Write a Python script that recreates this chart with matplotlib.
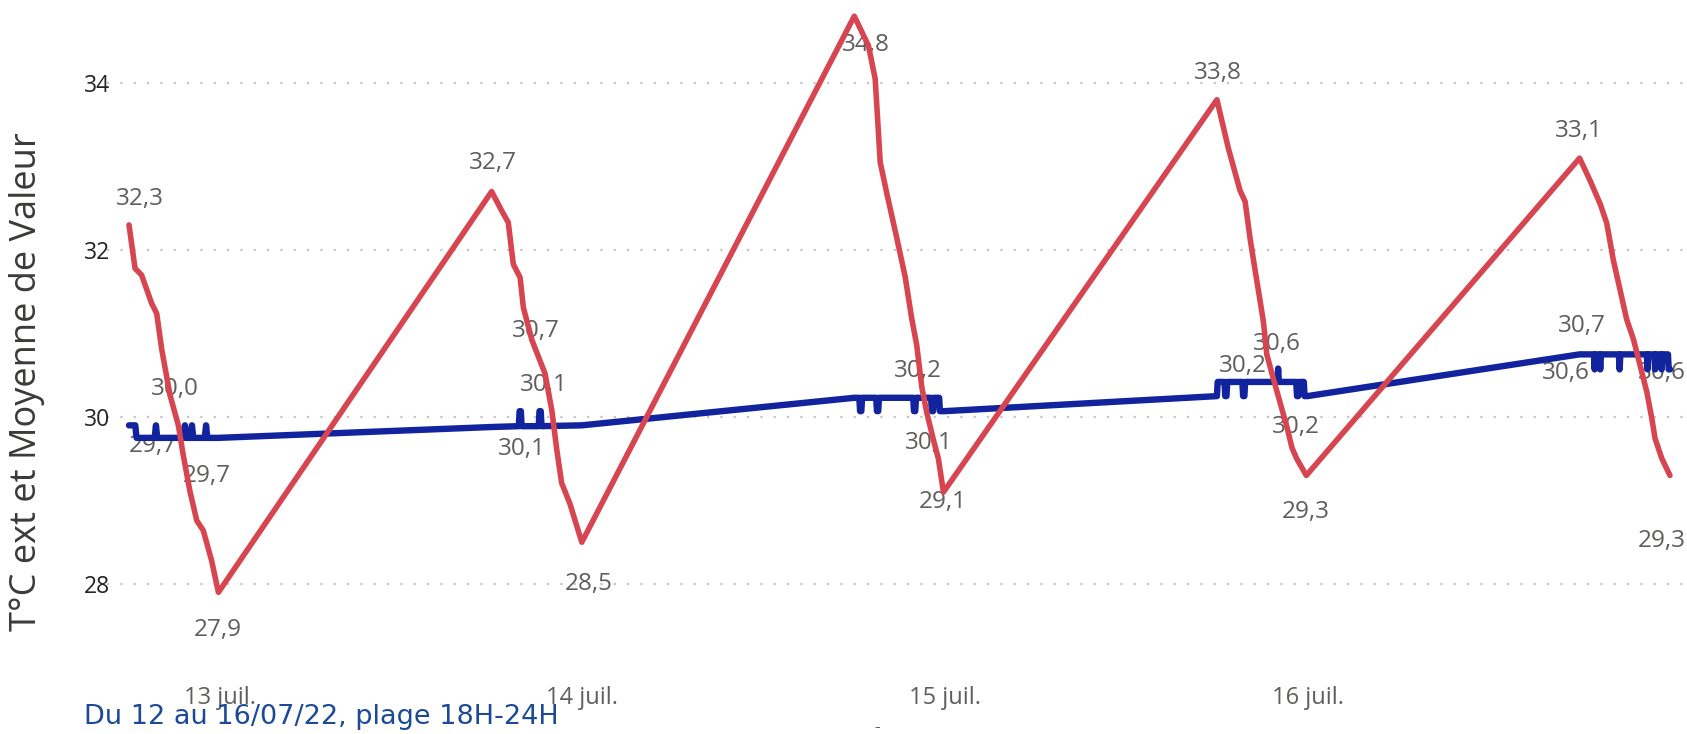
#!/usr/bin/env python3
"""
T°C ext vs average value, 12 to 16/07/22, 18H-24H window.
Power BI style line chart rebuilt with matplotlib.
"""

import matplotlib

matplotlib.use("Agg")
import matplotlib.pyplot as plt
import pandas as pd

YEAR = "2022-"

# outdoor temperature, one 18H-24H block per evening
red_times = [
    "07-12 18:00", "07-12 18:24", "07-12 18:50", "07-12 19:30", "07-12 19:50", "07-12 20:10",
    "07-12 20:43", "07-12 21:16", "07-12 21:35", "07-12 22:02", "07-12 22:29", "07-12 22:55",
    "07-12 23:28", "07-12 23:55",
    "07-13 18:00", "07-13 18:40", "07-13 19:06", "07-13 19:26", "07-13 19:53", "07-13 20:06",
    "07-13 20:40", "07-13 21:32", "07-13 21:59", "07-13 22:19", "07-13 22:38", "07-13 23:11",
    "07-13 23:58",
    "07-14 18:00", "07-14 18:56", "07-14 19:23", "07-14 19:43", "07-14 20:09", "07-14 20:49",
    "07-14 21:22", "07-14 21:48", "07-14 22:08", "07-14 22:28", "07-14 22:48", "07-14 23:14",
    "07-14 23:34", "07-14 23:54",
    "07-15 18:00", "07-15 18:46", "07-15 19:32", "07-15 19:52", "07-15 20:12", "07-15 20:32",
    "07-15 20:52", "07-15 21:05", "07-15 21:18", "07-15 21:44", "07-15 22:11", "07-15 22:38",
    "07-15 22:58", "07-15 23:17", "07-15 23:55",
    "07-16 18:00", "07-16 18:42", "07-16 19:22", "07-16 19:48", "07-16 20:14", "07-16 20:41",
    "07-16 21:07", "07-16 21:34", "07-16 22:01", "07-16 22:27", "07-16 22:47", "07-16 23:00",
    "07-16 23:27", "07-16 23:59",
]
red_values = [
    32.3, 31.78, 31.70, 31.36, 31.24, 30.81, 30.26, 29.90, 29.55, 29.11, 28.76, 28.64, 28.28, 27.9,
    32.7, 32.47, 32.33, 31.83, 31.67, 31.31, 30.92, 30.52, 30.08, 29.60, 29.21, 28.96, 28.5,
    34.8, 34.45, 34.05, 33.05, 32.68, 32.14, 31.68, 31.18, 30.86, 30.36, 30.05, 29.73, 29.50, 29.1,
    33.8, 33.21, 32.71, 32.58, 32.13, 31.75, 31.38, 31.13, 30.75, 30.46, 30.17, 29.88, 29.63, 29.50, 29.3,
    33.1, 32.83, 32.55, 32.32, 31.88, 31.52, 31.17, 30.93, 30.61, 30.30, 29.98, 29.74, 29.50, 29.3,
]

# "Moyenne de Valeur"
blue_times = [
    "07-12 18:00", "07-12 18:25", "07-12 18:30", "07-12 19:42", "07-12 19:47", "07-12 19:52",
    "07-12 21:37", "07-12 21:42", "07-12 21:47", "07-12 22:05", "07-12 22:10", "07-12 22:15",
    "07-12 23:01", "07-12 23:06", "07-12 23:11", "07-12 23:55",
    "07-13 18:00", "07-13 19:48", "07-13 19:51", "07-13 19:56", "07-13 19:59", "07-13 21:07",
    "07-13 21:10", "07-13 21:15", "07-13 21:18", "07-13 23:58",
    "07-14 18:00", "07-14 18:20", "07-14 18:23", "07-14 18:28", "07-14 18:31", "07-14 19:27",
    "07-14 19:30", "07-14 19:35", "07-14 19:38", "07-14 21:54", "07-14 21:57", "07-14 22:02",
    "07-14 22:05", "07-14 23:05", "07-14 23:08", "07-14 23:13", "07-14 23:16", "07-14 23:37",
    "07-14 23:40", "07-14 23:59",
    "07-15 18:00", "07-15 18:03", "07-15 18:30", "07-15 18:33", "07-15 18:38", "07-15 18:41",
    "07-15 19:41", "07-15 19:44", "07-15 19:49", "07-15 19:52", "07-15 22:00", "07-15 22:03",
    "07-15 22:06", "07-15 23:15", "07-15 23:18", "07-15 23:23", "07-15 23:26", "07-15 23:45",
    "07-15 23:48", "07-15 23:59",
    "07-16 18:00", "07-16 18:57", "07-16 19:00", "07-16 19:03", "07-16 19:19", "07-16 19:22",
    "07-16 19:25", "07-16 20:36", "07-16 20:39", "07-16 20:42", "07-16 22:27", "07-16 22:30",
    "07-16 22:33", "07-16 22:57", "07-16 23:00", "07-16 23:03", "07-16 23:23", "07-16 23:26",
    "07-16 23:29", "07-16 23:51", "07-16 23:54", "07-16 23:59",
]
blue_values = [
    29.90, 29.90, 29.75, 29.75, 29.90, 29.75, 29.75, 29.90, 29.75, 29.75, 29.90, 29.75,
    29.75, 29.90, 29.75, 29.75,
    29.88, 29.89, 30.07, 30.07, 29.89, 29.89, 30.07, 30.07, 29.89, 29.90,
    30.23, 30.23, 30.07, 30.07, 30.23, 30.23, 30.07, 30.07, 30.23, 30.23, 30.07, 30.07,
    30.23, 30.23, 30.07, 30.07, 30.23, 30.23, 30.07, 30.07,
    30.25, 30.42, 30.42, 30.25, 30.25, 30.42, 30.42, 30.25, 30.25, 30.42, 30.42, 30.58,
    30.42, 30.42, 30.25, 30.25, 30.42, 30.42, 30.25, 30.25,
    30.75, 30.75, 30.57, 30.75, 30.75, 30.57, 30.75, 30.75, 30.57, 30.75, 30.75, 30.57,
    30.75, 30.75, 30.57, 30.75, 30.75, 30.57, 30.75, 30.75, 30.57, 30.57,
]

# data labels as Power BI placed them
label_texts = [
    "32,3", "30,0", "29,7", "29,7", "27,9",
    "32,7", "30,7", "30,1", "30,1", "28,5",
    "34,8", "30,2", "30,1", "29,1",
    "33,8", "30,2", "30,6", "30,2", "29,3",
    "33,1", "30,7", "30,6", "30,6", "29,3",
]
label_times = [
    "07-12 18:44", "07-12 21:02", "07-12 19:35", "07-12 23:10", "07-12 23:53",
    "07-13 18:05", "07-13 20:56", "07-13 21:28", "07-13 20:01", "07-14 00:25",
    "07-14 18:47", "07-14 22:13", "07-14 22:55", "07-14 23:50",
    "07-15 18:04", "07-15 19:44", "07-15 21:59", "07-15 23:12", "07-15 23:54",
    "07-16 17:58", "07-16 18:08", "07-16 17:04", "07-16 23:27", "07-16 23:27",
]
label_y = [
    32.61, 30.34, 29.65, 29.29, 27.45,
    33.04, 31.03, 30.38, 29.62, 28.00,
    34.46, 30.55, 29.69, 28.98,
    34.12, 30.61, 30.87, 29.88, 28.86,
    33.43, 31.09, 30.53, 30.53, 28.51,
]

tick_dates = ["07-13", "07-14", "07-15", "07-16"]
tick_labels = ["13 juil.", "14 juil.", "15 juil.", "16 juil."]
y_ticks = [28, 30, 32, 34]

RED = "#D64550"
BLUE = "#12239E"
LABEL_GRAY = "#605E5C"
FONT = ["Open Sans", "DejaVu Sans"]


def to_dt(values):
    return pd.to_datetime([YEAR + v for v in values])


def main():
    W, H = 1687, 734
    fig = plt.figure(figsize=(W / 100, H / 100), dpi=100, facecolor="white")
    ax = fig.add_axes([107 / W, 58 / H, 1580 / W, 676 / H])
    ax.set_facecolor("white")

    ax.plot(to_dt(blue_times), blue_values, color=BLUE, linewidth=4.6,
            solid_joinstyle="round", solid_capstyle="round", zorder=3)
    ax.plot(to_dt(red_times), red_values, color=RED, linewidth=4.0,
            solid_joinstyle="round", solid_capstyle="round", zorder=4)

    for txt, t, y in zip(label_texts, to_dt(label_times), label_y):
        ax.text(t, y, txt, ha="center", va="center", fontsize=17.5,
                color=LABEL_GRAY, family=FONT, zorder=2)

    t0 = pd.Timestamp("2022-07-12")
    ax.set_xlim(t0 + pd.Timedelta(hours=16.544), t0 + pd.Timedelta(hours=121.11))
    ax.set_ylim(26.898, 34.994)

    ax.set_yticks(y_ticks)
    ax.set_yticklabels([str(v) for v in y_ticks], family=FONT, fontsize=16.5, color="#252423")
    ax.set_xticks(to_dt(tick_dates))
    ax.set_xticklabels(tick_labels, family=FONT, fontsize=17, color=LABEL_GRAY)

    ax.grid(True, axis="y", linestyle=(0, (1, 5)), linewidth=1.6, color="#c8c6c4", zorder=1)
    ax.grid(False, axis="x")
    for side in ["top", "left", "right", "bottom"]:
        ax.spines[side].set_visible(False)
    ax.tick_params(axis="both", which="both", length=0)
    ax.tick_params(axis="x", pad=7)
    ax.tick_params(axis="y", pad=-2)

    fig.text(27 / W, 1 - 382 / H, "T°C ext et Moyenne de Valeur", rotation=90,
             ha="center", va="center", fontsize=26, color="#3b3a39", family=FONT)

    # caption sits over the first date label, as in the source screenshot
    fig.text(84 / W, 1 - 717 / H, "Du 12 au 16/07/22, plage 18H-24H", ha="left",
             va="center", fontsize=19.5, color="#1c4a96", family="DejaVu Sans")
    fig.text(877 / W, 1 - 727 / H, "–", ha="center", va="center", fontsize=8, color="#444444")

    fig.savefig("out.png", dpi=100, facecolor="white")
    plt.close(fig)


if __name__ == "__main__":
    main()
